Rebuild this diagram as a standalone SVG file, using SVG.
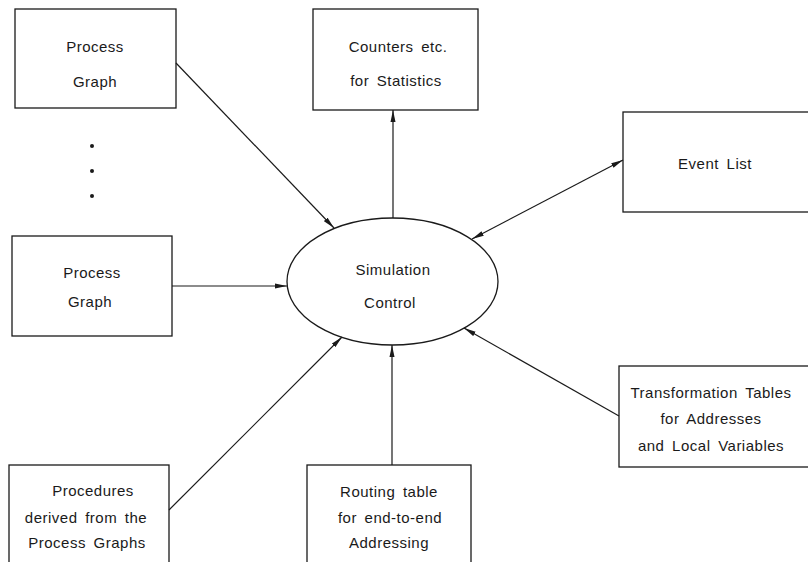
<svg xmlns="http://www.w3.org/2000/svg" width="808" height="562" viewBox="0 0 808 562">
<style>
.box{fill:#fff;stroke:#1a1a1a;stroke-width:1.3}
.t{font-family:"Liberation Sans",Arial,sans-serif;font-size:15px;letter-spacing:0.5px;word-spacing:3px;fill:#1a1a1a;text-anchor:middle;dominant-baseline:central}
.c{stroke:#1a1a1a;stroke-width:1.2;fill:none;marker-end:url(#ah)}
</style>
<defs>
<marker id="ah" viewBox="0 0 12 6" refX="12" refY="3" markerWidth="12" markerHeight="6" markerUnits="userSpaceOnUse" orient="auto-start-reverse">
<path d="M0,0.5 L12,3 L0,5.5 Z" fill="#1a1a1a"/>
</marker>
</defs>
<rect width="808" height="562" fill="#fff"/>
<g id="process-graph-1"><rect class="box" x="15" y="9" width="161" height="99"/><text class="t" x="95" y="46">Process</text><text class="t" x="95" y="81">Graph</text></g>
<g id="dots" fill="#1a1a1a"><circle cx="92" cy="146" r="2"/><circle cx="92" cy="171" r="2"/><circle cx="92" cy="196" r="2"/></g>
<g id="counters"><rect class="box" x="313" y="9" width="165" height="101"/><text class="t" x="398" y="46">Counters etc.</text><text class="t" x="396" y="80">for Statistics</text></g>
<g id="event-list"><rect class="box" x="623" y="112" width="190" height="100"/><text class="t" x="715" y="163">Event List</text></g>
<g id="simulation-control"><ellipse class="box" cx="392.5" cy="281.5" rx="105.5" ry="63.5"/><text class="t" x="393" y="269">Simulation</text><text class="t" x="390" y="302">Control</text></g>
<g id="process-graph-2"><rect class="box" x="12" y="236" width="160" height="100"/><text class="t" x="92" y="272">Process</text><text class="t" x="90" y="301">Graph</text></g>
<g id="procedures"><rect class="box" x="9" y="465" width="160" height="110"/><text class="t" x="93" y="490">Procedures</text><text class="t" x="86" y="517">derived from the</text><text class="t" x="87" y="542">Process Graphs</text></g>
<g id="routing"><rect class="box" x="307" y="465" width="164" height="110"/><text class="t" x="389" y="491">Routing table</text><text class="t" x="390" y="517">for end-to-end</text><text class="t" x="389" y="542">Addressing</text></g>
<g id="transformation"><rect class="box" x="619" y="366" width="195" height="101"/><text class="t" x="711" y="392">Transformation Tables</text><text class="t" x="711" y="418">for Addresses</text><text class="t" x="711" y="445">and Local Variables</text></g>
<g id="connectors">
<line class="c" x1="176" y1="63" x2="334" y2="228"/>
<line class="c" x1="393" y1="218" x2="393" y2="110"/>
<line class="c" x1="623" y1="160" x2="472" y2="239" style="marker-start:url(#ah)"/>
<line class="c" x1="172" y1="286" x2="287" y2="286"/>
<line class="c" x1="169" y1="510" x2="342" y2="337"/>
<line class="c" x1="392" y1="465" x2="392" y2="345"/>
<line class="c" x1="619" y1="416" x2="464" y2="328"/>
</g>
</svg>
